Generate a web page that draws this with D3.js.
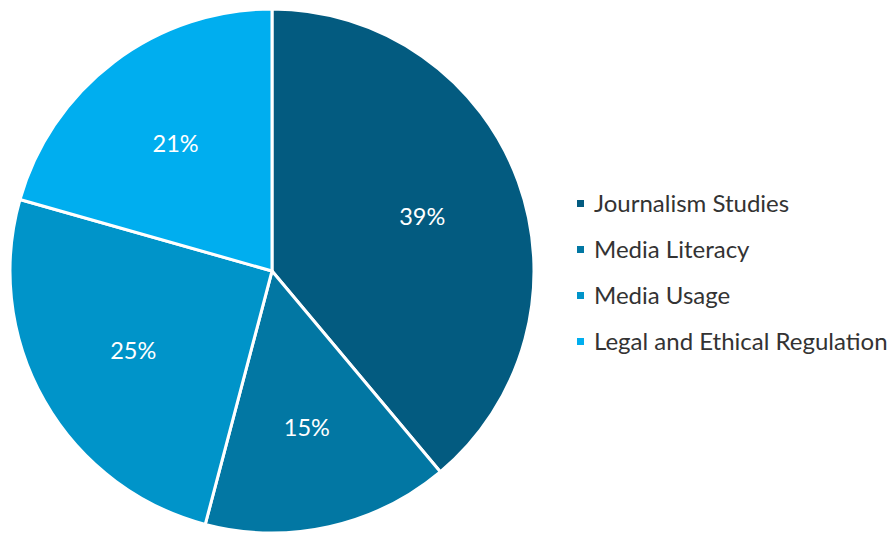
<!DOCTYPE html>
<html><head><meta charset="utf-8">
<script src="https://cdn.jsdelivr.net/npm/d3@7"></script>
<style>body{margin:0;background:#fff;} svg{display:block;}</style>
</head><body>
<svg id="chart" width="892" height="534"></svg>
<script>
const categories = ["Journalism Studies", "Media Literacy", "Media Usage", "Legal and Ethical Regulation"];
const values = [38.9, 15.2, 25.3, 20.6];
const labels = ["39%", "15%", "25%", "21%"];
const colors = ["#035b80", "#0277a3", "#0094c9", "#00aeef"];

const svg = d3.select("#chart");
const cx = 272, cy = 271, R = 262;
const data = categories.map((c, i) => ({ name: c, value: values[i], label: labels[i], color: colors[i] }));
const pie = d3.pie().value(d => d.value).sort(null);
const arc = d3.arc().innerRadius(0).outerRadius(R);
const labelArc = d3.arc().innerRadius(R * 0.61).outerRadius(R * 0.61);
const g = svg.append("g").attr("transform", `translate(${cx},${cy})`);
const arcs = pie(data);
g.selectAll("path").data(arcs).join("path")
  .attr("d", arc).attr("fill", d => d.data.color)
  .attr("stroke", "#fff").attr("stroke-width", 3).attr("stroke-linejoin", "round");
g.selectAll("text").data(arcs).join("text")
  .attr("transform", d => `translate(${labelArc.centroid(d)})`)
  .attr("text-anchor", "middle").attr("dominant-baseline", "central")
  .attr("fill", "#fff").style("font-family", "Lato").style("font-size", "23.5px")
  .text(d => d.data.label);

const leg = svg.append("g").attr("transform", "translate(577,202)");
const rows = leg.selectAll("g").data(data).join("g")
  .attr("transform", (d, i) => `translate(0,${i * 46})`);
rows.append("rect").attr("x", 0).attr("y", -2).attr("width", 7).attr("height", 7).attr("fill", d => d.color);
rows.append("text").attr("x", 17).attr("y", 0).attr("dominant-baseline", "central")
  .attr("fill", "#333").style("font-family", "Lato").style("font-size", "24px")
  .text(d => d.name);
</script>
</body></html>
